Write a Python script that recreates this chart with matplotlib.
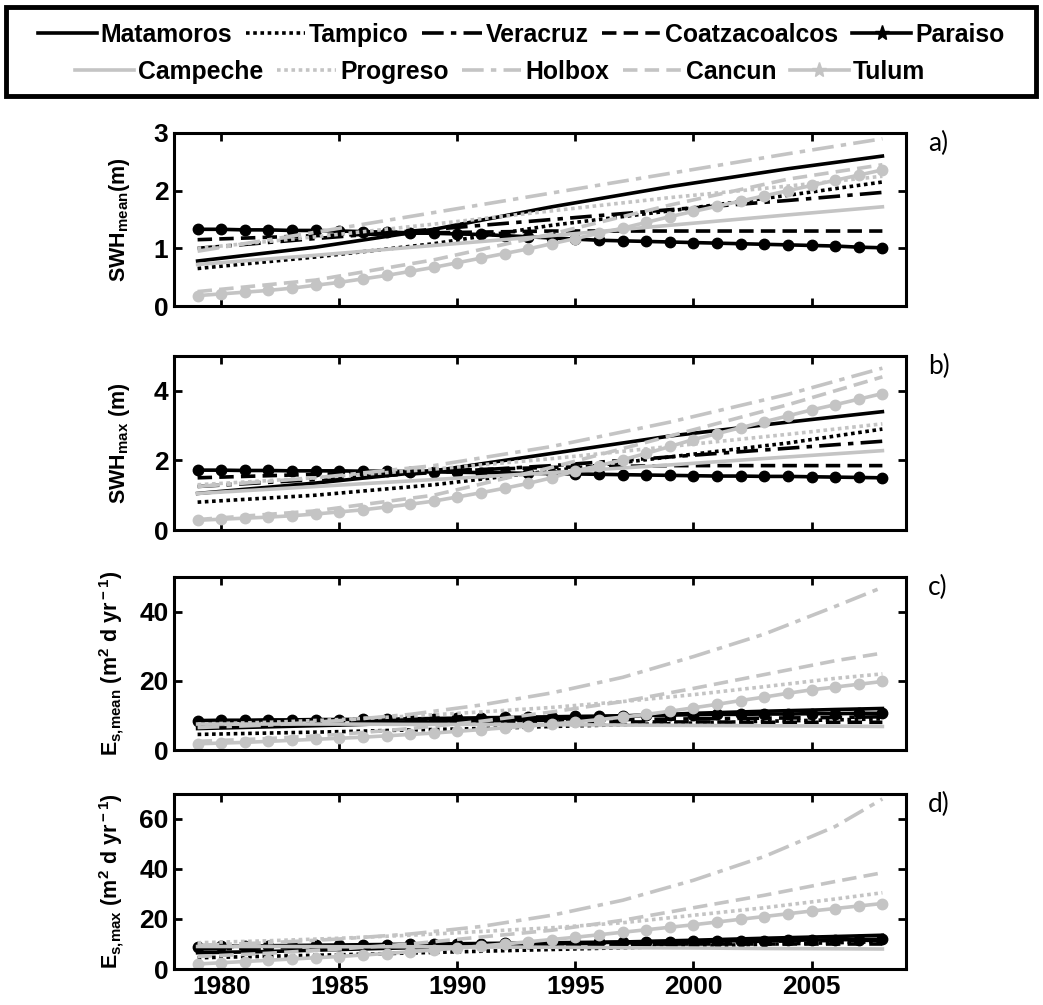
import matplotlib
matplotlib.use('Agg')
import matplotlib.pyplot as plt
from matplotlib.patches import Rectangle
from matplotlib.lines import Line2D

# ---- data ----
years = list(range(1979, 2009))
years_ab = [1979, 1984, 1989, 1994, 1999, 2004, 2008]
years_cd = [1979, 1982, 1985, 1988, 1991, 1994, 1997, 2000, 2003, 2006, 2008]

stations = ['Matamoros', 'Tampico', 'Veracruz', 'Coatzacoalcos', 'Paraiso',
            'Campeche', 'Progreso', 'Holbox', 'Cancun', 'Tulum']

# panel a) SWH mean (m)
swh_mean = {
    'Matamoros':     [0.78, 1.02, 1.33, 1.72, 2.07, 2.38, 2.60],
    'Tampico':       [0.65, 0.85, 1.08, 1.40, 1.65, 1.92, 2.15],
    'Veracruz':      [1.00, 1.17, 1.33, 1.50, 1.67, 1.83, 1.97],
    'Coatzacoalcos': [1.15, 1.22, 1.27, 1.30, 1.30, 1.30, 1.30],
    'Campeche':      [0.72, 0.88, 1.05, 1.22, 1.40, 1.58, 1.72],
    'Progreso':      [1.00, 1.20, 1.42, 1.65, 1.88, 2.08, 2.25],
    'Holbox':        [0.95, 1.28, 1.62, 1.96, 2.30, 2.64, 2.90],
    'Cancun':        [0.25, 0.45, 0.80, 1.25, 1.75, 2.20, 2.45],
}
paraiso_swh_mean = [1.33, 1.33, 1.32, 1.32, 1.31, 1.31, 1.30, 1.29, 1.28, 1.27,
                    1.26, 1.25, 1.24, 1.22, 1.20, 1.18, 1.16, 1.14, 1.13, 1.12,
                    1.11, 1.10, 1.09, 1.08, 1.07, 1.06, 1.05, 1.04, 1.02, 1.01]
tulum_swh_mean = [0.18, 0.21, 0.24, 0.27, 0.31, 0.36, 0.41, 0.47, 0.53, 0.60,
                  0.67, 0.75, 0.83, 0.91, 0.99, 1.08, 1.17, 1.26, 1.35, 1.45,
                  1.55, 1.64, 1.73, 1.82, 1.91, 2.00, 2.09, 2.18, 2.27, 2.36]

# panel b) SWH max (m)
swh_max = {
    'Matamoros':     [1.05, 1.35, 1.70, 2.20, 2.70, 3.10, 3.40],
    'Tampico':       [0.80, 1.00, 1.30, 1.70, 2.10, 2.50, 2.90],
    'Veracruz':      [1.25, 1.45, 1.65, 1.85, 2.10, 2.35, 2.55],
    'Coatzacoalcos': [1.50, 1.60, 1.70, 1.80, 1.85, 1.85, 1.85],
    'Campeche':      [1.05, 1.25, 1.45, 1.65, 1.87, 2.10, 2.28],
    'Progreso':      [1.30, 1.50, 1.75, 2.05, 2.40, 2.75, 3.05],
    'Holbox':        [1.25, 1.50, 1.85, 2.40, 3.10, 3.90, 4.65],
    'Cancun':        [0.30, 0.55, 1.00, 1.80, 2.70, 3.60, 4.40],
}
paraiso_swh_max = [1.72, 1.72, 1.71, 1.71, 1.70, 1.70, 1.70, 1.69, 1.69, 1.68,
                   1.67, 1.66, 1.65, 1.64, 1.63, 1.62, 1.61, 1.60, 1.59, 1.58,
                   1.57, 1.56, 1.55, 1.55, 1.54, 1.54, 1.53, 1.52, 1.51, 1.50]
tulum_swh_max = [0.28, 0.31, 0.34, 0.37, 0.41, 0.46, 0.52, 0.58, 0.66, 0.74,
                 0.83, 0.95, 1.07, 1.20, 1.34, 1.50, 1.70, 1.85, 2.02, 2.20,
                 2.40, 2.60, 2.77, 2.94, 3.11, 3.28, 3.45, 3.60, 3.76, 3.92]

# panel c) Es mean (m2 d yr-1)
es_mean = {
    'Matamoros':     [6.2, 6.7, 7.2, 7.8, 8.5, 9.0, 9.8, 10.6, 11.2, 11.7, 12.0],
    'Tampico':       [4.5, 4.9, 5.3, 5.8, 6.2, 6.8, 7.3, 7.8, 8.3, 8.7, 9.0],
    'Veracruz':      [7.5, 7.7, 7.9, 8.1, 8.4, 8.6, 8.8, 9.0, 9.2, 9.4, 9.6],
    'Coatzacoalcos': [8.0, 8.0, 8.0, 8.1, 8.1, 8.1, 8.1, 8.1, 8.0, 8.0, 8.0],
    'Campeche':      [7.5, 7.5, 7.5, 7.4, 7.4, 7.3, 7.2, 7.1, 7.0, 6.9, 6.8],
    'Progreso':      [7.5, 8.0, 8.8, 9.8, 11.0, 12.3, 14.0, 16.0, 18.3, 20.7, 22.0],
    'Holbox':        [6.5, 7.2, 8.5, 10.3, 13.0, 16.5, 21.0, 27.0, 33.5, 41.5, 47.0],
    'Cancun':        [2.5, 3.3, 4.5, 6.2, 8.3, 11.0, 14.0, 17.8, 21.8, 25.8, 28.0],
}
paraiso_es_mean = [8.5, 8.6, 8.6, 8.7, 8.7, 8.8, 8.8, 8.9, 8.9, 9.0,
                   9.1, 9.2, 9.3, 9.4, 9.5, 9.6, 9.7, 9.8, 9.9, 10.0,
                   10.1, 10.2, 10.3, 10.3, 10.4, 10.4, 10.5, 10.5, 10.6, 10.6]
tulum_es_mean = [1.8, 2.0, 2.2, 2.5, 2.8, 3.1, 3.4, 3.7, 4.1, 4.5,
                 4.9, 5.4, 5.9, 6.4, 6.9, 7.5, 8.1, 8.8, 9.5, 10.3,
                 11.2, 12.2, 13.2, 14.3, 15.3, 16.4, 17.4, 18.2, 19.0, 19.8]

# panel d) Es max (m2 d yr-1)
es_max = {
    'Matamoros':     [6.5, 7.0, 7.8, 8.5, 9.3, 10.0, 10.8, 11.5, 12.3, 13.0, 13.5],
    'Tampico':       [4.5, 5.1, 5.7, 6.4, 7.1, 7.8, 8.5, 9.2, 9.9, 10.5, 11.0],
    'Veracruz':      [8.0, 8.4, 8.8, 9.2, 9.6, 10.0, 10.4, 10.8, 11.1, 11.4, 11.5],
    'Coatzacoalcos': [9.0, 9.1, 9.3, 9.5, 9.7, 9.8, 9.9, 10.0, 10.0, 10.0, 10.0],
    'Campeche':      [9.0, 9.0, 8.9, 8.9, 8.8, 8.7, 8.5, 8.4, 8.2, 8.1, 8.0],
    'Progreso':      [10.5, 11.3, 12.3, 13.5, 15.0, 16.5, 18.5, 21.5, 24.5, 28.0, 30.5],
    'Holbox':        [9.5, 10.5, 12.0, 14.0, 17.0, 21.5, 27.5, 35.5, 45.0, 57.0, 68.0],
    'Cancun':        [5.0, 6.3, 8.0, 10.0, 12.8, 15.5, 19.5, 24.5, 29.5, 35.0, 38.5],
}
paraiso_es_max = [9.0, 9.1, 9.1, 9.3, 9.4, 9.5, 9.6, 9.7, 9.8, 9.9,
                  10.0, 10.1, 10.2, 10.3, 10.4, 10.5, 10.6, 10.7, 10.8, 10.9,
                  11.0, 11.1, 11.2, 11.3, 11.4, 11.5, 11.6, 11.7, 11.8, 11.9]
tulum_es_max = [2.0, 2.5, 3.0, 3.5, 4.0, 4.5, 5.0, 5.6, 6.2, 6.9,
                7.6, 8.4, 9.2, 10.0, 10.9, 11.8, 12.7, 13.7, 14.7, 15.7,
                16.7, 17.7, 18.8, 19.9, 21.0, 22.1, 23.2, 24.2, 25.2, 26.2]

# ---- styles ----
GRAY = '#c4c4c4'
DOT = (0, (1, 1))
DASHDOT = (0, (6, 2, 1.5, 2))
DASH = (0, (4, 2))
styles = {
    'Matamoros':     dict(color='black', ls='-'),
    'Tampico':       dict(color='black', ls=DOT),
    'Veracruz':      dict(color='black', ls=DASHDOT),
    'Coatzacoalcos': dict(color='black', ls=DASH),
    'Paraiso':       dict(color='black', ls='-', marker='o', ms=7.5),
    'Campeche':      dict(color=GRAY, ls='-'),
    'Progreso':      dict(color=GRAY, ls=DOT),
    'Holbox':        dict(color=GRAY, ls=DASHDOT),
    'Cancun':        dict(color=GRAY, ls=DASH),
    'Tulum':         dict(color=GRAY, ls='-', marker='o', ms=7.5),
}
LW = 2.6

plt.rcParams['font.family'] = ['Liberation Sans', 'DejaVu Sans']
plt.rcParams['font.weight'] = 'bold'
plt.rcParams['mathtext.fontset'] = 'custom'
plt.rcParams['mathtext.rm'] = 'Liberation Sans:bold'
plt.rcParams['mathtext.bf'] = 'Liberation Sans:bold'
plt.rcParams['mathtext.it'] = 'Liberation Sans:bold'
plt.rcParams['axes.linewidth'] = 2.2
plt.rcParams['xtick.direction'] = 'in'
plt.rcParams['ytick.direction'] = 'in'
plt.rcParams['xtick.top'] = True
plt.rcParams['ytick.right'] = True
plt.rcParams['xtick.major.size'] = 6
plt.rcParams['ytick.major.size'] = 6
plt.rcParams['xtick.major.width'] = 2
plt.rcParams['ytick.major.width'] = 2

fig = plt.figure(figsize=(10.43, 10.05), dpi=100)

W, H = 1043.0, 1005.0
left, right = 174, 906
# (top, bottom) pixel rows of each panel
panel_px = [(133, 306), (356, 530), (577, 750), (794, 969)]

panels = [
    (swh_mean, years_ab, paraiso_swh_mean, tulum_swh_mean, (0, 3), [0, 1, 2, 3],
     r'SWH$_{\rm mean}$(m)', -0.057, 'a)'),
    (swh_max, years_ab, paraiso_swh_max, tulum_swh_max, (0, 5), [0, 2, 4],
     r'SWH$_{\rm max}$ (m)', -0.057, 'b)'),
    (es_mean, years_cd, paraiso_es_mean, tulum_es_mean, (0, 50), [0, 20, 40],
     r'E$_{\rm s{,}mean}$ (m$^{\rm 2}$ d yr$^{\rm -1}$)', -0.066, 'c)'),
    (es_max, years_cd, paraiso_es_max, tulum_es_max, (0, 70), [0, 20, 40, 60],
     r'E$_{\rm s{,}max}$ (m$^{\rm 2}$ d yr$^{\rm -1}$)', -0.066, 'd)'),
]

for i, (coarse, xs_c, paraiso, tulum, ylim, yticks, ylabel, ylx, tag) in enumerate(panels):
    top, bot = panel_px[i]
    ax = fig.add_axes([left / W, 1 - bot / H, (right - left) / W, (bot - top) / H])
    for name in stations:
        if name == 'Paraiso':
            ys, xs = paraiso, years
        elif name == 'Tulum':
            ys, xs = tulum, years
        else:
            ys, xs = coarse[name], xs_c
        ax.plot(xs, ys, lw=LW, label=name, **styles[name])
    ax.set_xlim(1978, 2009)
    ax.set_ylim(*ylim)
    ax.set_yticks(yticks)
    ax.set_xticks([1980, 1985, 1990, 1995, 2000, 2005])
    ax.tick_params(labelsize=19, pad=4)
    if i < 3:
        ax.set_xticklabels([])
    ax.set_ylabel(ylabel, fontsize=15.5, fontweight='bold')
    ax.yaxis.set_label_coords(ylx, 0.5)
    ax.text(1.030, 0.94, tag, transform=ax.transAxes, fontsize=19,
            fontweight='normal', family='Lato', ha='left', va='center')

# legend proxies (asterisk markers as in the original key)
handles = {}
for name in stations:
    st = dict(styles[name])
    if 'marker' in st:
        st.update(marker='*', ms=11)
    handles[name] = Line2D([], [], lw=LW, **st)

row1 = stations[:5]
row2 = stations[5:]
leg_kw = dict(loc='center', ncol=5, frameon=False,
              handlelength=2.4, handletextpad=0.15, columnspacing=0.55,
              prop={'weight': 'bold', 'size': 17.8})
fig.legend([handles[n] for n in row1], row1,
           bbox_to_anchor=(521 / W, 1 - 35 / H), **leg_kw)
fig.legend([handles[n] for n in row2], row2,
           bbox_to_anchor=(500 / W, 1 - 72 / H), **leg_kw)
fig.patches.append(Rectangle((6 / W, 1 - 96 / H), 1030 / W, 89 / H,
                             transform=fig.transFigure, fill=False,
                             lw=3.5, edgecolor='black'))

fig.savefig('out.png', dpi=100)
